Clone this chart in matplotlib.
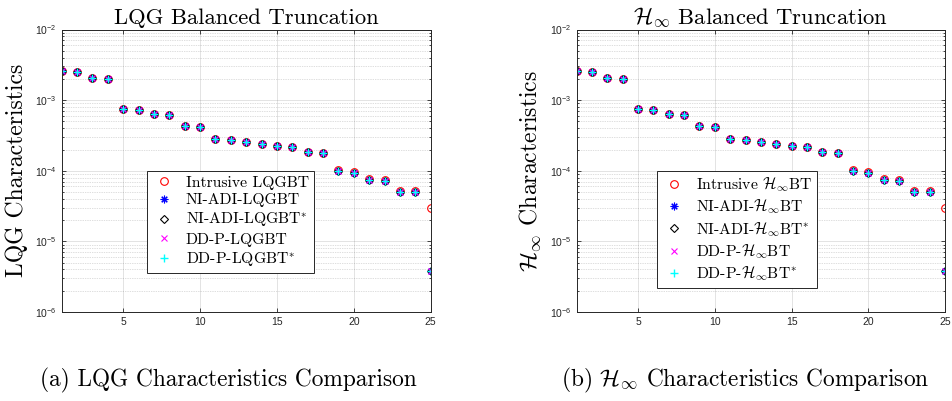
import numpy as np
import matplotlib
matplotlib.use("Agg")
import matplotlib.pyplot as plt
from matplotlib.ticker import LogLocator, FixedLocator, NullFormatter

plt.rcParams['font.family'] = ['Liberation Sans', 'DejaVu Sans']
plt.rcParams['mathtext.fontset'] = 'cm'
plt.rcParams['axes.unicode_minus'] = False

# Reduced-order index
order = np.arange(1, 26)

# LQG characteristic values
lqg_intrusive = [2.6e-3, 2.5e-3, 2.03e-3, 2.0e-3, 7.4e-4, 7.3e-4, 6.4e-4, 6.15e-4,
                 4.3e-4, 4.2e-4, 2.79e-4, 2.75e-4, 2.52e-4, 2.39e-4, 2.21e-4, 2.17e-4,
                 1.84e-4, 1.80e-4, 1.02e-4, 9.5e-5, 7.55e-5, 7.3e-5, 5.2e-5, 5.2e-5, 3.0e-5]
lqg_ni_adi = [2.6e-3, 2.5e-3, 2.03e-3, 2.0e-3, 7.4e-4, 7.3e-4, 6.4e-4, 6.15e-4,
              4.3e-4, 4.2e-4, 2.79e-4, 2.75e-4, 2.52e-4, 2.39e-4, 2.21e-4, 2.17e-4,
              1.84e-4, 1.80e-4, 1.0e-4, 9.3e-5, 7.4e-5, 7.1e-5, 5.0e-5, 5.0e-5, 3.8e-6]
lqg_ni_adi_star = lqg_ni_adi
lqg_ddp = lqg_ni_adi
lqg_ddp_star = lqg_ni_adi

# H-infinity characteristic values
hinf_intrusive = [2.6e-3, 2.5e-3, 2.03e-3, 2.0e-3, 7.4e-4, 7.3e-4, 6.4e-4, 6.15e-4,
                  4.3e-4, 4.2e-4, 2.79e-4, 2.75e-4, 2.52e-4, 2.39e-4, 2.21e-4, 2.17e-4,
                  1.84e-4, 1.80e-4, 1.02e-4, 9.5e-5, 7.55e-5, 7.3e-5, 5.2e-5, 5.2e-5, 3.0e-5]
hinf_ni_adi = [2.6e-3, 2.5e-3, 2.03e-3, 2.0e-3, 7.4e-4, 7.3e-4, 6.4e-4, 6.15e-4,
               4.3e-4, 4.2e-4, 2.79e-4, 2.75e-4, 2.52e-4, 2.39e-4, 2.21e-4, 2.17e-4,
               1.84e-4, 1.80e-4, 1.0e-4, 9.3e-5, 7.4e-5, 7.1e-5, 5.0e-5, 5.0e-5, 3.8e-6]
hinf_ni_adi_star = hinf_ni_adi
hinf_ddp = hinf_ni_adi
hinf_ddp_star = hinf_ni_adi

x_ticks = [5, 10, 15, 20, 25]

SERIF = 'cmr10'
AX_COLOR = '#262626'
ASTERISK = (8, 2, 0)


def draw_panel(ax, series, labels, title, ylabel):
    styles = [
        dict(marker='o', mfc='none', mec='red', ms=5.5, mew=0.8),
        dict(marker=ASTERISK, mfc='none', mec='blue', ms=5.5, mew=0.8),
        dict(marker='D', mfc='none', mec='black', ms=4.5, mew=0.8),
        dict(marker='x', mfc='none', mec='magenta', ms=4.5, mew=0.8),
        dict(marker='+', mfc='none', mec='cyan', ms=6, mew=1.0),
    ]
    for vals, lab, st in zip(series, labels, styles):
        ax.plot(order, vals, linestyle='none', label=lab, **st)

    ax.set_yscale('log')
    ax.set_xlim(1, 25)
    ax.set_ylim(1e-6, 1e-2)
    ax.xaxis.set_major_locator(FixedLocator(x_ticks))
    ax.yaxis.set_major_locator(LogLocator(base=10, numticks=10))
    ax.yaxis.set_minor_locator(LogLocator(base=10, subs=np.arange(2, 10), numticks=10))
    ax.yaxis.set_minor_formatter(NullFormatter())

    ax.grid(True, which='major', color=AX_COLOR, alpha=0.15, linewidth=0.6, linestyle='-')
    ax.grid(True, which='minor', axis='y', color=AX_COLOR, alpha=0.3, linewidth=0.5,
            linestyle=(0, (1, 1.5)))

    ax.tick_params(which='both', direction='in', top=True, right=True,
                   colors=AX_COLOR, labelsize=7.5, width=0.6)
    ax.tick_params(which='major', length=3)
    ax.tick_params(which='minor', length=1.5)
    for sp in ax.spines.values():
        sp.set_color(AX_COLOR)
        sp.set_linewidth(0.7)

    ax.set_title(title, fontfamily=SERIF, fontsize=16.3, pad=4)
    ax.set_ylabel(ylabel, fontfamily=SERIF, fontsize=17, labelpad=5)


fig = plt.figure(figsize=(9.52, 4.01), dpi=100)
ax1 = fig.add_axes([0.0648, 0.2219, 0.3876, 0.7045])
ax2 = fig.add_axes([0.6058, 0.2219, 0.3869, 0.7045])

lqg_labels = ['Intrusive LQGBT', 'NI-ADI-LQGBT', r'NI-ADI-LQGBT$^{*}$',
              'DD-P-LQGBT', r'DD-P-LQGBT$^{*}$']
hinf_labels = [r'Intrusive $\mathcal{H}_{\infty}$BT', r'NI-ADI-$\mathcal{H}_{\infty}$BT',
               r'NI-ADI-$\mathcal{H}_{\infty}$BT$^{*}$', r'DD-P-$\mathcal{H}_{\infty}$BT',
               r'DD-P-$\mathcal{H}_{\infty}$BT$^{*}$']

draw_panel(ax1, [lqg_intrusive, lqg_ni_adi, lqg_ni_adi_star, lqg_ddp, lqg_ddp_star],
           lqg_labels, 'LQG Balanced Truncation', 'LQG Characteristics')
draw_panel(ax2, [hinf_intrusive, hinf_ni_adi, hinf_ni_adi_star, hinf_ddp, hinf_ddp_star],
           hinf_labels, r'$\mathcal{H}_{\infty}$ Balanced Truncation',
           r'$\mathcal{H}_{\infty}$ Characteristics')

for ax, anchor in [(ax1, (0.1541, 0.5736)), (ax2, (0.6898, 0.5736))]:
    leg = ax.legend(loc='upper left', bbox_to_anchor=anchor, bbox_transform=fig.transFigure,
                    prop={'family': SERIF, 'size': 11.3}, fancybox=False, framealpha=1,
                    edgecolor=AX_COLOR, borderpad=0.3, labelspacing=0.22,
                    handletextpad=0.6, handlelength=1.6, borderaxespad=0)
    leg.get_frame().set_linewidth(0.7)

fig.text(0.2395, 0.052, '(a) LQG Characteristics Comparison', ha='center', va='center',
         fontfamily=SERIF, fontsize=16.8)
fig.text(0.7826, 0.052, r'(b) $\mathcal{H}_{\infty}$ Characteristics Comparison', ha='center',
         va='center', fontfamily=SERIF, fontsize=16.8)

fig.savefig('out.png', dpi=100)
